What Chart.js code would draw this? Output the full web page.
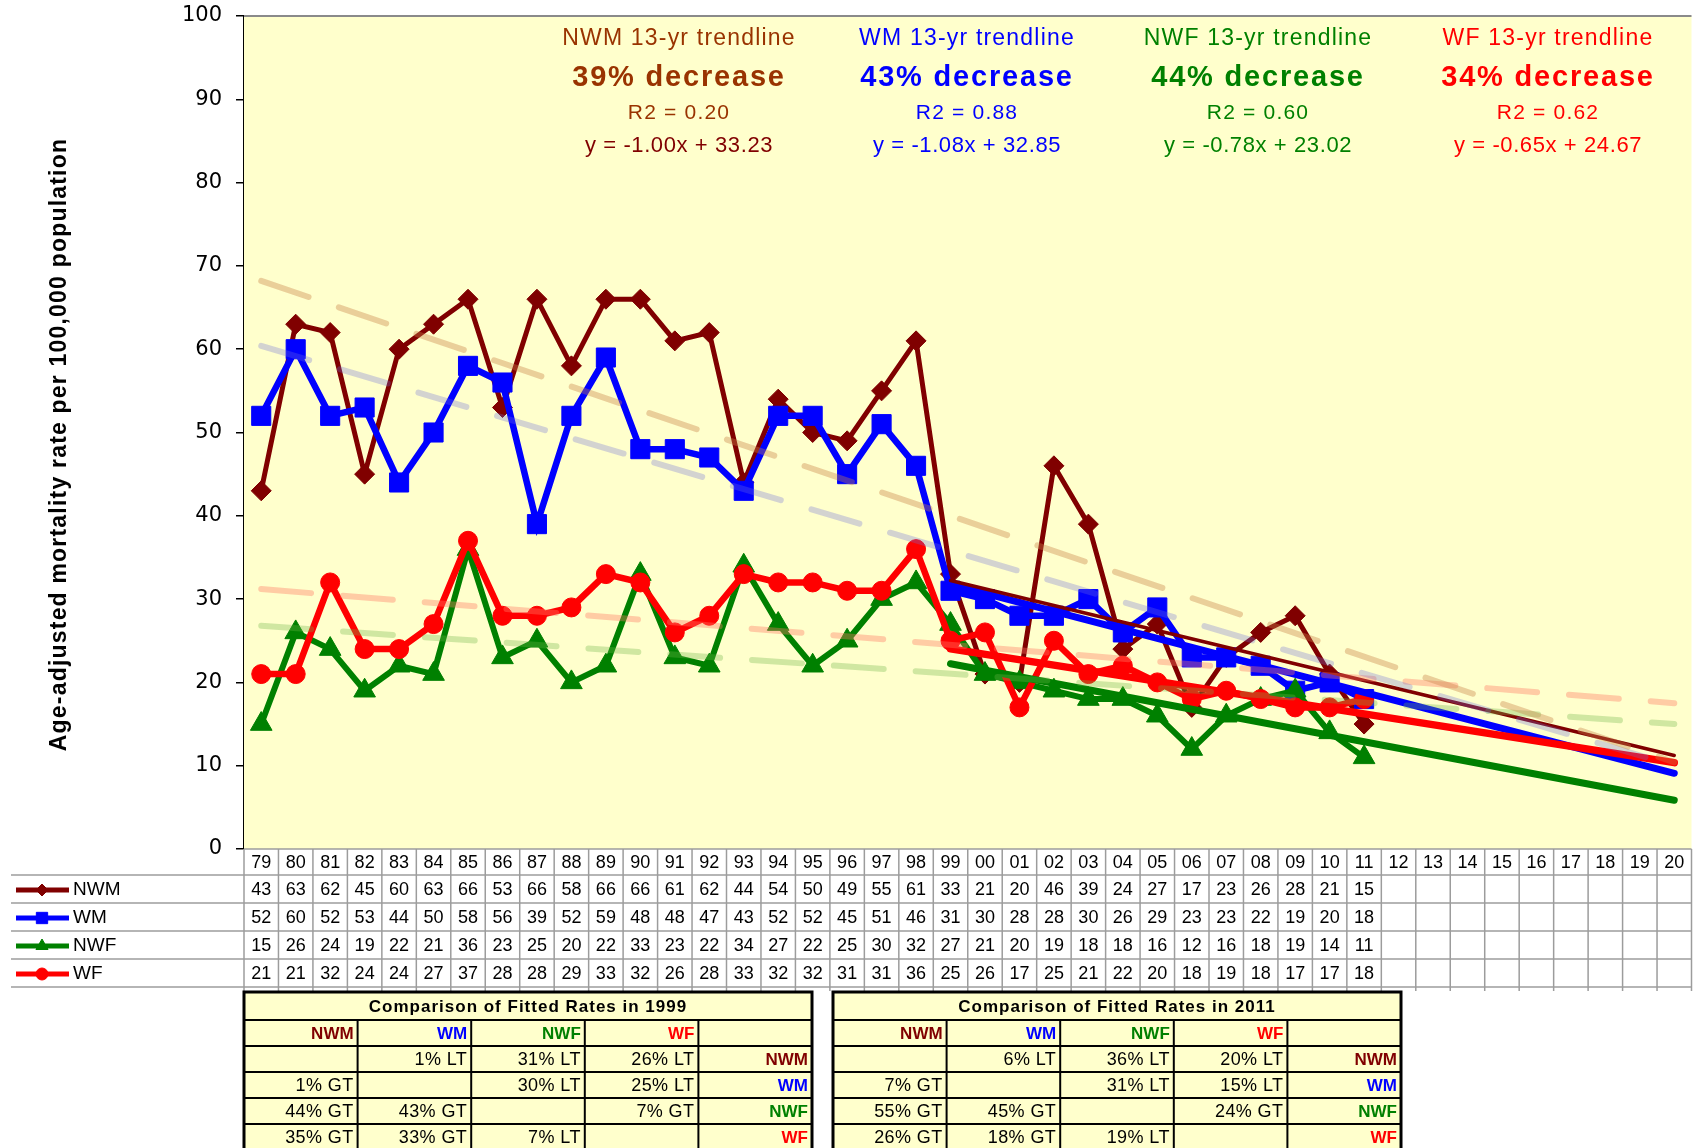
<!DOCTYPE html>
<html>
<head>
<meta charset="utf-8">
<title>Age-adjusted mortality rate</title>
<script src="https://cdn.jsdelivr.net/npm/chart.js@4.4.1/dist/chart.umd.min.js"></script>
<style>
  body { margin: 0; background: #fff; }
  #wrap { width: 1706px; height: 1148px; }
</style>
</head>
<body>
<div id="wrap"><canvas id="graficoMortalidad" width="1706" height="1148"></canvas></div>
<script>
// Years 1979-2020, shown as two digits
const years = ['79','80','81','82','83','84','85','86','87','88','89','90','91','92','93','94','95','96','97','98',
               '99','00','01','02','03','04','05','06','07','08','09','10','11','12','13','14','15','16','17','18','19','20'];

// Rates 1979-2011
const nwmRates = [43,63,62,45,60,63,66,53,66,58,66,66,61,62,44,54,50,49,55,61,33,21,20,46,39,24,27,17,23,26,28,21,15];
const wmRates  = [52,60,52,53,44,50,58,56,39,52,59,48,48,47,43,52,52,45,51,46,31,30,28,28,30,26,29,23,23,22,19,20,18];
const nwfRates = [15,26,24,19,22,21,36,23,25,20,22,33,23,22,34,27,22,25,30,32,27,21,20,19,18,18,16,12,16,18,19,14,11];
const wfRates  = [21,21,32,24,24,27,37,28,28,29,33,32,26,28,33,32,32,31,31,36,25,26,17,25,21,22,20,18,19,18,17,17,18];

// Whole-period trendlines (values at first and last year)
const trendYears = ['79', '20'];
const nwmTrend = [68.2, 10.4];
const wmTrend  = [60.4, 10.0];
const nwfTrend = [26.8, 15.0];
const wfTrend  = [31.2, 17.5];

// 13-yr trendlines 1999-2020, from the fitted equations
const fitYears = ['99', '20'];
const nwmFit = [32.23, 11.23];
const wmFit  = [31.77, 9.09];
const nwfFit = [22.24, 5.86];
const wfFit  = [24.02, 10.37];

// Text for the trendline boxes
const fitNames = ['NWM', 'WM', 'NWF', 'WF'];
const fitDecrease = ['39% decrease', '43% decrease', '44% decrease', '34% decrease'];
const fitR2 = ['R2 = 0.20', 'R2 = 0.88', 'R2 = 0.60', 'R2 = 0.62'];
const fitEquation = ['y = -1.00x + 33.23', 'y = -1.08x + 32.85', 'y = -0.78x + 23.02', 'y = -0.65x + 24.67'];

// Comparison tables of fitted rates
const cmpHeader = ['NWM', 'WM', 'NWF', 'WF', ''];
const cmp1999 = [
  ['', '1% LT', '31% LT', '26% LT', 'NWM'],
  ['1% GT', '', '30% LT', '25% LT', 'WM'],
  ['44% GT', '43% GT', '', '7% GT', 'NWF'],
  ['35% GT', '33% GT', '7% LT', '', 'WF']
];
const cmp2011 = [
  ['', '6% LT', '36% LT', '20% LT', 'NWM'],
  ['7% GT', '', '31% LT', '15% LT', 'WM'],
  ['55% GT', '45% GT', '', '24% GT', 'NWF'],
  ['26% GT', '18% GT', '19% LT', '', 'WF']
];

const COL = { NWM: '#800000', WM: '#0000FF', NWF: '#008000', WF: '#FF0000' };
const BOX_COL = [['#993300', '#800000'], ['#0000FF', '#0000FF'], ['#008000', '#008000'], ['#FF0000', '#FF0000']];
const SANS = "'Liberation Sans', Arial, sans-serif";
const NARROW = "'Liberation Sans Narrow', 'Arial Narrow', 'Liberation Sans', sans-serif";

function pts(xs, ys) { return xs.map((x, i) => ({ x: x, y: ys[i] })); }

function serie(label, data, color, pointStyle, radius, width, order) {
  return {
    label, data, order,
    borderColor: color, backgroundColor: color,
    pointBackgroundColor: color, pointBorderColor: color,
    pointStyle, pointRadius: radius, pointHoverRadius: radius, pointBorderWidth: 1,
    borderWidth: width, tension: 0
  };
}

function tendencia(label, data, color, width, dash, order) {
  return {
    label, data, order,
    borderColor: color, borderWidth: width, borderDash: dash || [],
    borderCapStyle: 'round', pointRadius: 0, pointHoverRadius: 0, tension: 0
  };
}

function texto(ctx, s, x, y, font, color, align, spacing) {
  ctx.save();
  ctx.font = font;
  ctx.fillStyle = color;
  ctx.textAlign = align || 'center';
  ctx.textBaseline = 'middle';
  if ('letterSpacing' in ctx) ctx.letterSpacing = (spacing || 0) + 'px';
  ctx.fillText(s, x, y);
  ctx.restore();
}

function linea(ctx, x1, y1, x2, y2, color, w) {
  ctx.save();
  ctx.strokeStyle = color;
  ctx.lineWidth = w;
  ctx.beginPath();
  ctx.moveTo(x1, y1);
  ctx.lineTo(x2, y2);
  ctx.stroke();
  ctx.restore();
}

// data table under the x axis, with legend keys in the first column
function tablaDatos(chart) {
  const { ctx, chartArea: a, scales: { x } } = chart;
  const cw = (a.right - a.left) / years.length;
  const rows = [a.bottom, a.bottom + 26, a.bottom + 54, a.bottom + 82, a.bottom + 110, a.bottom + 138];
  const grid = '#9c9c9c';

  ctx.save();
  ctx.fillStyle = '#fff';
  ctx.fillRect(a.left, a.bottom, a.right - a.left, 138);
  ctx.restore();

  for (let r = 1; r < rows.length; r++) linea(ctx, 11, rows[r], a.right, rows[r], grid, 1.5);
  linea(ctx, a.left, rows[0], a.right, rows[0], grid, 1.5);
  for (let i = 0; i <= years.length; i++) {
    const xx = a.left + i * cw;
    linea(ctx, xx, rows[0], xx, rows[5] + 4, grid, 1.5);
  }

  const numFont = '18px ' + NARROW;
  years.forEach((yr, i) => texto(ctx, yr, x.getPixelForValue(i), (rows[0] + rows[1]) / 2 + 1, numFont, '#000'));

  const series = [
    ['NWM', nwmRates, 'rectRot', 6],
    ['WM', wmRates, 'rect', 8],
    ['NWF', nwfRates, 'triangle', 7],
    ['WF', wfRates, 'circle', 6]
  ];
  series.forEach(([name, vals, style, rad], r) => {
    const cy = (rows[r + 1] + rows[r + 2]) / 2 + 1;
    vals.forEach((v, i) => texto(ctx, String(v), x.getPixelForValue(i), cy, numFont, '#000'));
    // legend key
    linea(ctx, 16, cy, 69, cy, COL[name], 5);
    ctx.save();
    ctx.fillStyle = COL[name];
    ctx.strokeStyle = COL[name];
    Chart.helpers.drawPoint(ctx, { pointStyle: style, radius: rad, borderWidth: 1, rotation: 0 }, 42, cy);
    ctx.restore();
    texto(ctx, name, 73, cy, '19px ' + NARROW, '#000', 'left');
  });
}

// one comparison table of fitted rates
function tablaComparacion(ctx, left, top, colW, titulo, filas) {
  const hTit = 28, hRow = 26;
  const w = colW * 5, h = hTit + hRow * 5;
  ctx.save();
  ctx.fillStyle = '#FFFFCC';
  ctx.fillRect(left, top, w, h);
  ctx.restore();

  texto(ctx, titulo, left + w / 2, top + hTit / 2 + 1, 'bold 17px ' + SANS, '#000', 'center', 1);

  const headColors = [COL.NWM, COL.WM, COL.NWF, COL.WF, '#000'];
  const rowColor = { NWM: COL.NWM, WM: COL.WM, NWF: COL.NWF, WF: COL.WF };
  const cellY = r => top + hTit + r * hRow + hRow / 2 + 1;

  cmpHeader.forEach((s, c) => {
    if (s) texto(ctx, s, left + (c + 1) * colW - 4, cellY(0), 'bold 17px ' + SANS, headColors[c], 'right');
  });
  filas.forEach((fila, r) => {
    fila.forEach((s, c) => {
      if (!s) return;
      if (c === 4) texto(ctx, s, left + (c + 1) * colW - 4, cellY(r + 1), 'bold 17px ' + SANS, rowColor[s], 'right');
      else texto(ctx, s, left + (c + 1) * colW - 4, cellY(r + 1), '18px ' + SANS, '#000', 'right', 0.4);
    });
  });

  // grid
  for (let r = 1; r <= 5; r++) {
    const yy = top + hTit + (r - 1) * hRow;
    linea(ctx, left, yy, left + w, yy, '#000', 2);
  }
  for (let c = 1; c < 5; c++) {
    const xx = left + c * colW;
    linea(ctx, xx, top + hTit, xx, top + h, '#000', 2);
  }
  ctx.save();
  ctx.strokeStyle = '#000';
  ctx.lineWidth = 3;
  ctx.strokeRect(left, top, w, h);
  ctx.restore();
}

const marcoYTablas = {
  id: 'marcoYTablas',
  beforeDatasetsDraw(chart) {
    const { ctx, chartArea: a } = chart;
    ctx.save();
    ctx.fillStyle = '#FFFFCC';
    ctx.fillRect(a.left, a.top, a.right - a.left, a.bottom - a.top);
    ctx.restore();
    linea(ctx, a.left, a.top, a.right, a.top, '#8a8a8a', 2);
  },
  afterDraw(chart) {
    const { ctx, chartArea: a } = chart;

    // y axis title
    ctx.save();
    ctx.translate(60, (a.top + a.bottom) / 2 + 12);
    ctx.rotate(-Math.PI / 2);
    texto(ctx, 'Age-adjusted mortality rate per 100,000 population', 0, 0, 'bold 23px ' + SANS, '#000', 'center', 1.2);
    ctx.restore();

    // trendline boxes across the top
    const cx = [679, 967, 1258, 1548];
    fitNames.forEach((n, i) => {
      const [c1, c2] = BOX_COL[i];
      texto(ctx, n + ' 13-yr trendline', cx[i], 39, '23px ' + SANS, c1, 'center', 1.2);
      texto(ctx, fitDecrease[i], cx[i], 78, 'bold 29px ' + SANS, c1, 'center', 1.8);
      texto(ctx, fitR2[i], cx[i], 113, '21px ' + SANS, c1, 'center', 1.2);
      texto(ctx, fitEquation[i], cx[i], 146, '22px ' + SANS, c2, 'center', 0.6);
    });

    tablaDatos(chart);
    tablaComparacion(ctx, a.left, 992, 113.6, 'Comparison of Fitted Rates in 1999', cmp1999);
    tablaComparacion(ctx, 833, 992, 113.6, 'Comparison of Fitted Rates in 2011', cmp2011);
  }
};

const ctxMortalidad = document.getElementById('graficoMortalidad').getContext('2d');
new Chart(ctxMortalidad, {
  type: 'line',
  data: {
    labels: years,
    datasets: [
      tendencia('NWM trend', pts(trendYears, nwmTrend), 'rgba(200,130,70,0.38)', 6, [50, 32], 1),
      tendencia('WM trend', pts(trendYears, wmTrend), 'rgba(110,110,220,0.3)', 6, [50, 32], 2),
      tendencia('NWF trend', pts(trendYears, nwfTrend), 'rgba(110,180,70,0.32)', 6, [50, 32], 3),
      tendencia('WF trend', pts(trendYears, wfTrend), 'rgba(255,120,100,0.38)', 6, [50, 32], 4),
      tendencia('NWM 13-yr', pts(fitYears, nwmFit), COL.NWM, 3.5, null, 5),
      tendencia('WF 13-yr', pts(fitYears, wfFit), COL.WF, 7.5, null, 6),
      tendencia('WM 13-yr', pts(fitYears, wmFit), COL.WM, 7, null, 7),
      tendencia('NWF 13-yr', pts(fitYears, nwfFit), COL.NWF, 7, null, 8),
      serie('WF', wfRates, COL.WF, 'circle', 9.5, 6.5, 9),
      serie('NWF', nwfRates, COL.NWF, 'triangle', 12.5, 6, 10),
      serie('WM', wmRates, COL.WM, 'rect', 13.5, 6.5, 11),
      serie('NWM', nwmRates, COL.NWM, 'rectRot', 10, 5, 12)
    ]
  },
  options: {
    responsive: false,
    animation: false,
    events: [],
    layout: { padding: { top: 16, right: 0, bottom: 299, left: 0 } },
    plugins: { legend: { display: false }, tooltip: { enabled: false } },
    scales: {
      x: { type: 'category', display: false, offset: true },
      y: {
        min: 0, max: 100,
        afterFit: s => { s.width = 244; s.paddingTop = 0; s.paddingBottom = 0; },
        ticks: { stepSize: 10, padding: 14, color: '#000', font: { family: 'DejaVu Sans', size: 21 } },
        grid: { drawOnChartArea: false, drawTicks: true, tickLength: 8, color: '#000', lineWidth: 1.5 },
        border: { display: true, color: '#000', width: 2 }
      }
    }
  },
  plugins: [marcoYTablas]
});
</script>
</body>
</html>
